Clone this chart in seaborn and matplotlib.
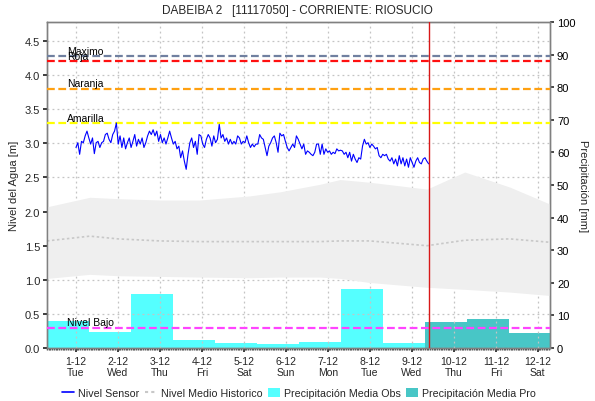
import numpy as np
import pandas as pd
import matplotlib
matplotlib.use("Agg")
import matplotlib.pyplot as plt
import seaborn as sns
from matplotlib.lines import Line2D
from matplotlib.patches import Patch

# ---------------- data ----------------
day_labels = ["1-12", "2-12", "3-12", "4-12", "5-12", "6-12",
              "7-12", "8-12", "9-12", "10-12", "11-12", "12-12"]
weekdays = ["Tue", "Wed", "Thu", "Fri", "Sat", "Sun",
            "Mon", "Tue", "Wed", "Thu", "Fri", "Sat"]

# daily precipitation [mm]
precip_obs = [8.4, 4.8, 16.6, 2.5, 1.6, 1.2, 1.9, 18.1, 1.5]
precip_pro = [7.9, 8.9, 4.6]

# sensor water level [m], from day 0.0 to day 8.4
sensor_level = [
    2.94, 3.01, 2.84, 3.03, 3.01, 3.11, 3.18, 3.08, 2.99, 3.08, 2.85, 3.01,
    3.03, 2.94, 3.01, 3.03, 3.13, 3.15, 3.06, 3.01, 3.13, 3.18, 3.30, 2.99,
    3.11, 2.94, 3.08, 2.92, 3.01, 3.08, 2.94, 3.03, 3.13, 2.96, 3.06, 2.99,
    3.08, 2.94, 3.01, 3.11, 3.18, 3.13, 3.20, 3.11, 3.18, 3.03, 3.13, 3.01,
    3.08, 2.99, 3.08, 3.18, 3.08, 2.99, 3.03, 2.92, 2.96, 2.79, 2.89, 2.74,
    2.62, 2.84, 3.01, 3.08, 2.94, 3.03, 2.84, 3.13, 3.11, 2.99, 2.94, 3.06,
    3.13, 3.08, 2.96, 3.11, 3.01, 3.06, 3.28, 3.08, 3.13, 3.03, 3.08, 2.99,
    3.06, 2.99, 3.03, 2.99, 3.11, 3.08, 2.99, 3.03, 3.01, 3.11, 3.01, 2.94,
    2.99, 2.95, 2.99,
    2.99, 3.13, 3.08, 3.06, 2.94, 2.82, 2.96, 3.01, 3.08, 3.11, 3.01, 2.87,
    3.15, 3.11, 3.13, 3.03, 2.94, 2.89, 2.94, 2.99, 2.94, 3.11, 3.06, 2.99,
    2.92, 2.99, 2.84, 2.89, 2.87, 2.84, 2.82, 2.87, 2.99, 2.99, 2.84, 2.99,
    2.84, 2.92, 2.87, 2.89, 2.84, 2.87, 2.85, 2.92, 2.89, 2.90, 2.89, 2.84,
    2.87, 2.79, 2.87, 2.74, 2.84, 2.77, 2.72, 2.79, 2.77, 2.96, 3.06, 2.99,
    3.01, 2.94, 2.99, 2.96, 2.92, 2.94, 2.82, 2.79, 2.84, 2.82, 2.84, 2.77,
    2.74, 2.79, 2.70, 2.77, 2.67, 2.82, 2.70, 2.79, 2.67, 2.77, 2.65, 2.79,
    2.72, 2.65, 2.74, 2.79, 2.72, 2.70, 2.77, 2.79, 2.74, 2.70,
]
sensor_start, sensor_end = 0.0, 8.4

# historic level envelope [m]
hist_day = [-0.69, 0.33, 1.0, 2.0, 2.95, 4.14, 4.86, 5.81, 6.29, 7.0,
            8.36, 9.26, 10.33, 11.29]
hist_upper = [2.07, 2.21, 2.19, 2.17, 2.17, 2.23, 2.29, 2.40, 2.47, 2.43,
              2.33, 2.58, 2.36, 2.11]
hist_lower = [1.02, 1.08, 1.06, 1.05, 1.04, 1.03, 1.04, 1.04, 1.02, 0.96,
              0.89, 0.86, 0.82, 0.77]
hist_mean = [1.57, 1.64, 1.60, 1.57, 1.56, 1.56, 1.56, 1.56, 1.57, 1.57,
             1.50, 1.58, 1.60, 1.55]

# alert thresholds [m]
thr_names = ["Maximo", "Roja", "Naranja", "Amarilla", "Nivel Bajo"]
thr_values = [4.28, 4.21, 3.80, 3.30, 0.30]
thr_colors = ["#7080A0", "#FF1010", "#FFA010", "#FFFF00", "#FF44FF"]

now_day = 8.4

# ---------------- figure ----------------
sns.set_theme(style="white")
plt.rcParams["font.family"] = ["Liberation Sans", "DejaVu Sans"]

fig = plt.figure(figsize=(5.95, 4.02), dpi=100)
ax = fig.add_axes([47 / 595, 1 - 349 / 402, (550 - 47) / 595, (349 - 23) / 402])
ax2 = ax.twinx()
ax.set_zorder(ax2.get_zorder() + 1)
ax.patch.set_visible(False)
ax2.set_facecolor("white")

xmin, xmax = -0.69, 11.29

# precipitation bars (right axis)
n_obs = len(precip_obs)
bar_df = pd.DataFrame({
    "day": np.arange(len(precip_obs) + len(precip_pro)) - 0.19,
    "mm": precip_obs + precip_pro,
    "tipo": ["Obs"] * n_obs + ["Pro"] * len(precip_pro),
})
sns.barplot(data=bar_df, x="day", y="mm", hue="tipo", native_scale=True,
            dodge=False, width=1.0, palette={"Obs": "#55FFFF", "Pro": "#48C6C6"},
            saturation=1, linewidth=0, ax=ax2, legend=False)
ax2.set_ylim(0, 100)
ax2.set_xlim(xmin, xmax)
ax2.set_yticks(np.arange(0, 101, 10))
ax2.set_ylabel("Precipitación [mm]", rotation=-90, labelpad=9, fontsize=8)
ax2.tick_params(axis="y", labelsize=8, length=3, pad=2, colors="#333333",
                labelcolor="black")
ax2.grid(False)

# historic band (left axis)
ax.fill_between(hist_day, hist_lower, hist_upper, color="#EFEFEF", lw=0, zorder=1)
sns.lineplot(x=hist_day, y=hist_mean, ax=ax, color="#C8C8C8", lw=1.2,
             linestyle=(0, (1.5, 1.5)), zorder=2)

# thresholds
for name, val, col in zip(thr_names, thr_values, thr_colors):
    ax.axhline(val, color=col, lw=1.6, linestyle=(0, (3.5, 1.6)), zorder=3)
    ax.text(-0.21, val + 0.005, name, fontsize=7.5, va="bottom", ha="left",
            color="black", zorder=4)

# sensor
t = np.linspace(sensor_start, sensor_end, len(sensor_level))
sns.lineplot(x=t, y=sensor_level, ax=ax, color="#0000FF", lw=0.8, zorder=5)

ax.axvline(now_day, color="#D81818", lw=1.0, zorder=6)

ax.set_xlim(xmin, xmax)
ax.set_ylim(0, 4.78)
ax.set_yticks(np.arange(0, 4.51, 0.5))
ax.set_yticklabels([f"{v:.1f}" for v in np.arange(0, 4.51, 0.5)])
ax.set_xticks(np.arange(len(day_labels)))
ax.set_xticklabels([f"{d}\n{w}" for d, w in zip(day_labels, weekdays)],
                   linespacing=1.05)
ax.set_xticks(np.arange(xmin, xmax, 1 / 24), minor=True)
ax.tick_params(axis="x", which="major", labelsize=7.5, length=3, pad=3)
ax.tick_params(axis="x", which="minor", length=1.5, color="#555555")
ax.tick_params(axis="y", labelsize=8, length=3, pad=2)
ax.tick_params(bottom=True, left=True, which="both")
ax.set_ylabel("Nivel del Agua [m]", fontsize=8, labelpad=4)
ax.set_xlabel("")
ax.grid(True, color="#C4C4C4", linestyle=(0, (1.5, 2.5)), lw=0.9)
ax.set_axisbelow(True)

for a in (ax, ax2):
    for s in a.spines.values():
        s.set_color("#808080")
        s.set_linewidth(1.0)

fig.text(0.5, 1 - 11 / 402, "DABEIBA 2   [11117050] - CORRIENTE: RIOSUCIO",
         ha="center", va="center", fontsize=8.5)

handles = [
    Line2D([], [], color="#0000FF", lw=1.2),
    Line2D([], [], color="#C8C8C8", lw=1.5, linestyle=(0, (1.5, 1.5))),
    Patch(facecolor="#55FFFF", edgecolor="none"),
    Patch(facecolor="#48C6C6", edgecolor="none"),
]
labels = ["Nivel Sensor", "Nivel Medio Historico",
          "Precipitación Media Obs", "Precipitación Media Pro"]
fig.legend(handles, labels, loc="center", bbox_to_anchor=(0.503, 1 - 394 / 402),
           ncol=4, frameon=False, fontsize=7.7, handlelength=1.1,
           handleheight=1.0, columnspacing=0.5, handletextpad=0.4,
           borderpad=0.1)

fig.savefig("out.png", dpi=100)
